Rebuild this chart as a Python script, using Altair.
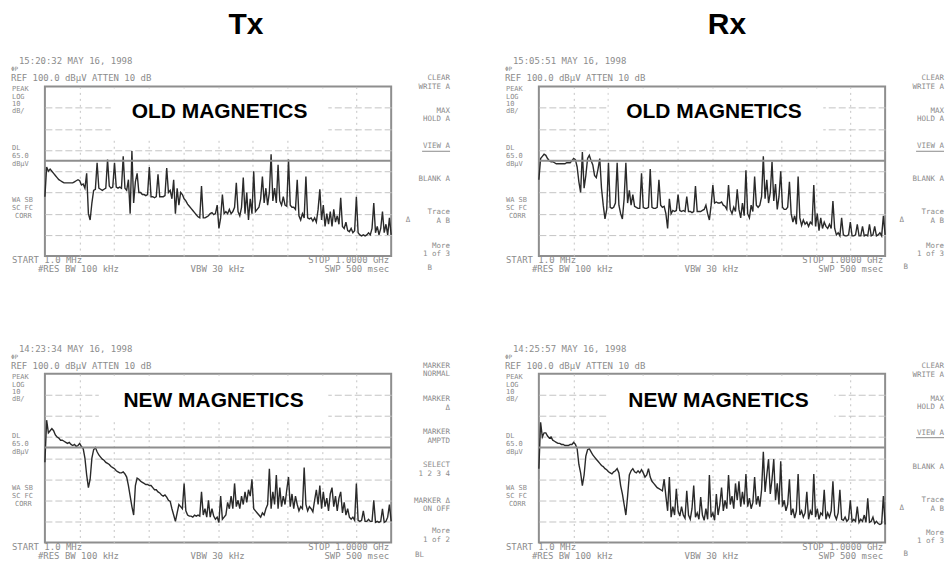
import altair as alt
import numpy as np
import pandas as pd

# ---------------- sweep (START 1.0 MHz, STOP 1.0000 GHz) ----------------
N_POINTS = 200
START_MHZ, STOP_MHZ = 1.0, 1000.0
freq_mhz = np.linspace(START_MHZ, STOP_MHZ, N_POINTS)

# ---------------- traces, dBuV ----------------
tx_old = [
    48, 62, 60, 61, 60, 59, 58, 57, 56, 55.5,
    55, 54.5, 54.5, 54.5, 54.5, 54.5, 54.5, 55, 55.5, 56,
    55.5, 53.5, 54, 52, 59, 40, 37, 45, 51, 51.5,
    64, 52, 51.5, 51, 51.5, 52, 65.5, 53, 52, 52.5,
    64, 52.5, 52, 52.5, 52, 67, 52, 51, 56, 40,
    69.5, 45, 55, 59, 50, 50, 49, 49, 48.5, 49,
    62, 48, 48, 47.5, 48, 58.5, 48, 48, 48, 48.5,
    61.5, 50, 51, 47, 56, 40, 52, 44, 50, 49,
    47, 46, 44.5, 43.5, 42.5, 41.5, 40.5, 39.5, 38.5, 38,
    53, 38, 38, 38.5, 39, 40, 40.5, 39.5, 40, 44,
    33, 38, 49, 40, 41, 40, 42, 40, 41, 43,
    54.5, 41, 39, 43, 57, 40, 50, 37, 47, 40,
    60, 41, 42, 43, 47, 57.5, 45, 52, 44, 50,
    68, 46, 52, 45, 63, 46, 44, 48, 44, 43.5,
    65.5, 44, 43, 43, 42, 56, 39, 37, 40, 38,
    57.5, 38, 37.5, 38, 36.5, 38, 36, 42, 51.5, 37,
    44, 34, 40, 35, 41, 34, 42, 36, 39, 35,
    47.5, 34, 33, 36, 32, 31.5, 33, 31, 32, 48,
    31, 30, 29.5, 30, 29.5, 30, 31, 30, 33, 45,
    31, 34, 30, 33, 41, 31, 35, 30, 38, 30,
]
rx_old = [
    56, 66, 67, 68, 67.5, 66, 65, 64.5, 64.5, 64,
    63.5, 63.5, 63.5, 63.5, 63.5, 63.5, 64, 64, 64, 65,
    66, 65.5, 62, 55, 50, 69, 52, 58, 66, 67.5,
    65, 63, 58, 57, 61, 66, 52, 44, 37.5, 42,
    64, 43, 42.5, 43, 45, 64, 44, 40, 37.5, 47,
    64, 45, 51, 44, 49, 43.5, 43, 42.5, 42.5, 59,
    43, 42.5, 42.5, 43, 61, 43, 42.5, 42.5, 43, 56,
    44, 43, 43.5, 40, 33, 47, 40, 41.5, 41, 41.5,
    49, 41.5, 41, 41.5, 41, 48, 41, 41, 40.5, 41,
    53, 41, 41, 41, 41.5, 42, 44, 40, 37, 44,
    53.5, 45, 45.5, 45, 45, 45.5, 44, 43.5, 42, 53.5,
    42, 40, 43, 41, 51.5, 42, 38, 45, 39, 60.5,
    40, 38, 44, 41, 57.5, 44, 43, 44, 48, 67,
    47, 56, 45, 50, 64.5, 46, 54, 42, 48, 60,
    43, 42, 42, 43, 55, 40, 36, 39, 35, 57.5,
    38, 34.5, 37, 35, 36, 34, 36, 35, 53.5, 34,
    40, 32, 38, 33, 36, 34, 33, 35, 33, 46,
    33, 30, 31, 29.5, 38, 30, 29.5, 29.5, 30, 36,
    29.5, 29.5, 30, 35, 29.5, 29.5, 34, 29.5, 30, 29.5,
    35, 29.5, 30, 34, 29.5, 30, 31, 29.5, 39, 30,
]
tx_new = [
    58, 78, 72, 73, 74, 73, 71, 70, 69.5, 68.5,
    68.5, 68, 67.5, 67, 67.5, 66.5, 66, 66.5, 65.5, 66,
    67, 65.5, 64.5, 60, 52, 46, 50, 60, 64, 65,
    63, 61.5, 60.5, 59.5, 59, 58, 57.5, 57, 56, 55.5,
    55, 54, 53.5, 53, 53, 53.5, 52.5, 51, 47, 42,
    37, 33, 47, 50.5, 50, 49, 48.5, 48, 47.5, 47.5,
    47, 47, 46, 45, 45, 44, 43.5, 42.5, 42, 42.5,
    41.5, 40, 39.5, 36, 33, 30, 34, 38, 37, 36,
    48, 35, 33, 32.5, 32.5, 32, 33, 32.5, 33, 32.5,
    44, 33, 36, 32, 40, 32, 36, 32.5, 31, 32,
    29.5, 42, 31, 32, 33, 39, 36, 42, 36, 48,
    37, 40, 36, 42, 38, 44, 39, 45, 42, 50,
    36, 35, 34, 33, 32, 34, 33, 36, 38, 55,
    36, 44, 38, 52, 36, 46, 37, 42, 38, 45,
    51, 37, 43, 36, 42, 38, 35, 37, 36, 55.5,
    38, 35, 37, 36, 34.5, 40, 45, 38, 47, 36,
    44, 37, 41, 35, 43, 46, 37, 42, 35, 41,
    44, 34, 39, 33, 36, 32, 31, 32, 30.5, 48,
    30.5, 30, 30.5, 35, 30, 30, 31, 30, 30, 40,
    29.5, 30, 29.5, 30, 36, 29.5, 30, 32, 38, 30,
]
rx_new = [
    55, 77, 70, 72, 72, 70.5, 69.5, 70, 68.5, 68,
    67.5, 67, 67, 66.5, 66.5, 66, 66, 66, 66.5, 66.5,
    67.5, 66.5, 64.5, 57, 53, 47, 52, 61, 64, 64.5,
    63, 61.5, 60.5, 59.5, 58.5, 57.5, 56.5, 56, 55, 54.5,
    53.5, 53, 52.5, 53.5, 54, 55, 53, 47, 43, 38,
    33, 42, 52, 54, 55, 53.5, 53, 54, 53, 54.5,
    53, 51, 52, 55, 51, 49, 48, 47, 46, 45.5,
    45, 44.5, 50, 42, 35, 51, 32, 37, 33, 45.5,
    35, 32.5, 37, 33, 31.5, 44.5, 33, 31, 36, 47,
    32, 34, 31, 41.5, 33, 30.5, 36, 31, 52, 32,
    34, 30.5, 43, 33, 38, 46, 35, 40, 36, 52,
    38, 42, 36, 48, 40, 49, 37, 44, 38, 52.5,
    37, 41, 36, 39, 51, 38, 42, 37, 45, 63,
    44, 52, 59.5, 43, 50, 59.5, 40, 48, 38, 58.5,
    37, 40, 35, 38, 50, 33, 36, 31.5, 35, 52.5,
    33, 35, 32, 34, 44, 31, 35, 33, 52.5, 32,
    36, 31, 34, 33, 45, 31, 34, 32, 35, 49,
    33, 31, 34, 45, 31, 30.5, 32, 30, 31, 40,
    30, 31, 30, 37, 29.5, 31, 30, 33, 29.5, 41,
    29.5, 30, 32, 29, 30, 29, 28.5, 29, 42, 28.5,
]

REF_LEVEL, BOTTOM_LEVEL = 100.0, 20.0
DISPLAY_LINE = 65.0
x_grid = [100.9, 200.8, 300.7, 400.6, 500.5, 600.4, 700.3, 800.2, 900.1]
y_grid = [30, 40, 50, 60, 70, 80, 90]

headers = ["15:20:32 MAY 16, 1998", "15:05:51 MAY 16, 1998",
           "14:23:34 MAY 16, 1998", "14:25:57 MAY 16, 1998"]
panel_labels = ["OLD MAGNETICS", "OLD MAGNETICS", "NEW MAGNETICS", "NEW MAGNETICS"]
column_titles = ["Tx", "Rx"]

# ---------------- styling ----------------
PW = 347
TOP_H, BOT_H = 170, 169
MONO = "DejaVu Sans Mono"
SANS = "Liberation Sans"
TXT = "#8c8c8c"
GRID = "#c4c4c4"
FRAME = "#8e8e8e"
TRACE = "#2a2a2a"
SMALL = 7
LINE = 9

softkeys_a = [("CLEAR", 406, -8), ("WRITE A", 406, 1), ("MAX", 406, 25), ("HOLD A", 406, 33),
              ("VIEW A", 406, 60), ("BLANK A", 406, 93), ("Trace", 406, 126), ("A  B", 406, 135),
              ("Δ", 366, 134), ("More", 406, 160), ("1 of 3", 406, 168)]
softkeys_marker = [("MARKER", 406, -8), ("NORMAL", 406, 0), ("MARKER", 406, 25), ("Δ", 406, 34),
                   ("MARKER", 406, 58), ("AMPTD", 406, 67), ("SELECT", 406, 91), ("1 2 3 4", 406, 100),
                   ("MARKER Δ", 406, 127), ("ON OFF", 406, 135), ("More", 406, 158), ("1 of 2", 406, 167)]


def left_info(header):
    rows = [
        (header, -26, -25, LINE),
        ("ΦP", -34, -17, 6),
        ("REF 100.0 dBµV  ATTEN 10 dB", -34, -8, LINE),
        ("PEAK", -33, 3, SMALL), ("LOG", -33, 11, SMALL), ("10", -33, 18, SMALL), ("dB/", -33, 25, SMALL),
        ("DL", -33, 62, SMALL), ("65.0", -33, 70, SMALL), ("dBµV", -33, 78, SMALL),
        ("WA SB", -33, 114, SMALL), ("SC FC", -33, 122, SMALL), ("CORR", -30, 130, SMALL),
        ("START 1.0 MHz", -33, 174, LINE), ("#RES BW 100 kHz", -7, 183, LINE),
        ("VBW 30 kHz", 146, 183, LINE),
    ]
    return pd.DataFrame(rows, columns=["t", "x", "y", "s"])


def right_info(keys, last):
    rows = [("STOP 1.0000 GHz", 345, 174, LINE), ("SWP 500 msec", 345, 183, LINE)]
    rows += [(t, x, y, SMALL + 0.5) for (t, x, y) in keys]
    rows.append(last)
    return pd.DataFrame(rows, columns=["t", "x", "y", "s"])


def pxX(f):
    return alt.X(f, scale=None, axis=None)


def pxY(f):
    return alt.Y(f, scale=None, axis=None)


def panel(values, h, label, label_cx, label_base, rect, header, keys, last,
          underline=None, title=None, title_cx=None, extent=False):
    xs = alt.Scale(domain=[START_MHZ, STOP_MHZ], nice=False, zero=False)
    ys = alt.Scale(domain=[BOTTOM_LEVEL, REF_LEVEL], nice=False, zero=False)
    layers = []
    if extent:
        ext = pd.DataFrame({"x": [-44], "x2": [902], "y": [-85], "y2": [478]})
        layers.append(alt.Chart(ext).mark_rect(opacity=0).encode(
            x=pxX("x:Q"), x2="x2:Q", y=pxY("y:Q"), y2="y2:Q"))
    df = pd.DataFrame({"MHz": freq_mhz, "dBuV": values})
    xax = alt.Axis(values=x_grid, grid=True, gridDash=[2, 4], gridColor=GRID, gridWidth=1,
                   labels=False, ticks=False, domain=False, title=None)
    yax = alt.Axis(values=y_grid, grid=True, gridDash=[7, 3], gridColor=GRID, gridWidth=1,
                   labels=False, ticks=False, domain=False, title=None)
    layers.append(alt.Chart(df).mark_line(color=TRACE, strokeWidth=1.4).encode(
        x=alt.X("MHz:Q", scale=xs, axis=xax), y=alt.Y("dBuV:Q", scale=ys, axis=yax)))
    # white patch behind the label
    r = pd.DataFrame({"x": [rect[0]], "x2": [rect[1]], "y": [2], "y2": [rect[2]]})
    layers.append(alt.Chart(r).mark_rect(color="white").encode(
        x=pxX("x:Q"), x2="x2:Q", y=pxY("y:Q"), y2="y2:Q"))
    # display line
    layers.append(alt.Chart(pd.DataFrame({"dl": [DISPLAY_LINE]})).mark_rule(
        color=FRAME, strokeWidth=2).encode(y=alt.Y("dl:Q", scale=ys, axis=None)))
    # label
    layers.append(alt.Chart(pd.DataFrame({"t": [label], "x": [label_cx], "y": [label_base]})).mark_text(
        font=SANS, fontWeight="bold", fontSize=21, align="center", baseline="alphabetic",
        color="black").encode(x=pxX("x:Q"), y=pxY("y:Q"), text="t:N"))
    # analyzer annotations
    layers.append(alt.Chart(left_info(header)).mark_text(
        font=MONO, align="left", baseline="middle", color=TXT).encode(
        x=pxX("x:Q"), y=pxY("y:Q"), text="t:N", size=alt.Size("s:Q", scale=None, legend=None)))
    layers.append(alt.Chart(right_info(keys, last)).mark_text(
        font=MONO, align="right", baseline="middle", color=TXT).encode(
        x=pxX("x:Q"), y=pxY("y:Q"), text="t:N", size=alt.Size("s:Q", scale=None, legend=None)))
    if underline:
        u = pd.DataFrame({"x": [underline[0]], "x2": [underline[1]], "y": [underline[2]]})
        layers.append(alt.Chart(u).mark_rule(color=TXT, strokeWidth=1).encode(
            x=pxX("x:Q"), x2="x2:Q", y=pxY("y:Q")))
    if title:
        layers.append(alt.Chart(pd.DataFrame({"t": [title], "x": [title_cx], "y": [-53]})).mark_text(
            font=SANS, fontWeight="bold", fontSize=30, align="center", baseline="alphabetic",
            color="black").encode(x=pxX("x:Q"), y=pxY("y:Q"), text="t:N"))
    return alt.layer(*layers).resolve_scale(x="independent", y="independent").properties(
        width=PW, height=h)


tl = panel(tx_old, TOP_H, panel_labels[0], 175, 32, (66, 284, 52), headers[0], softkeys_a,
           ("B", 388, 182, SMALL + 0.5), underline=(378, 406, 65), title=column_titles[0],
           title_cx=201.5, extent=True)
tr = panel(rx_old, TOP_H, panel_labels[1], 175.5, 32, (70, 285, 52), headers[1], softkeys_a,
           ("B", 370, 181, SMALL + 0.5), underline=(378, 406, 65), title=column_titles[1],
           title_cx=188.5)
bl = panel(tx_new, BOT_H, panel_labels[2], 169, 33, (54, 284, 48), headers[2], softkeys_marker,
           ("BL", 380, 182, SMALL + 0.5))
br = panel(rx_new, BOT_H, panel_labels[3], 180, 33, (68, 296, 48), headers[3],
           [(t, x, y + (-1 if 50 < y < 70 else 0)) for (t, x, y) in softkeys_a],
           ("B", 370, 181, SMALL + 0.5), underline=(378, 406, 64))

chart = alt.concat(tl, tr, bl, br, columns=2, bounds="flush",
                   spacing=alt.RowColnumber(row=118, column=148)).properties(
    padding=0, background="white").configure_view(stroke=FRAME, strokeWidth=2)

chart.save("out.html", embed_options={"renderer": "svg", "actions": False})
